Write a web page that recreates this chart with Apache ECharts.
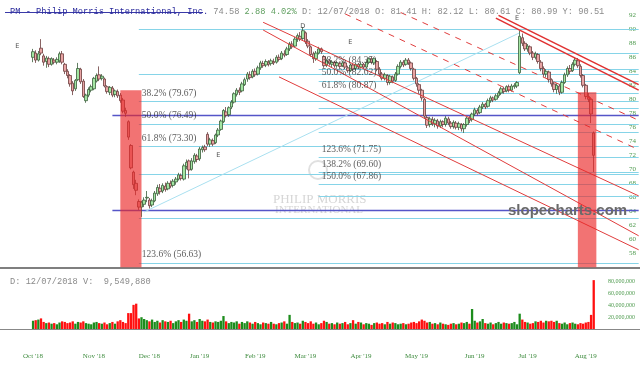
<!DOCTYPE html>
<html>
<head>
<meta charset="utf-8">
<script src="https://cdn.jsdelivr.net/npm/echarts@6/dist/echarts.min.js"></script>
<style>
html,body{margin:0;padding:0;background:#fff}
#chart{width:640px;height:368px}
</style>
</head>
<body>
<div id="chart"></div>
<script>
// trading calendar (NYSE holidays in the range)
const holidays = ['2018-11-22','2018-12-05','2018-12-25','2019-01-01','2019-01-21','2019-02-18','2019-04-19','2019-05-27','2019-07-04'];
const monthNames = ['Jan','Feb','Mar','Apr','May','Jun','Jul','Aug','Sep','Oct','Nov','Dec'];

function tradingDays(from, to) {
    let out = [], d = new Date(from + 'T00:00:00Z'), end = new Date(to + 'T00:00:00Z');
    while (d <= end) {
        let w = d.getUTCDay(), s = d.toISOString().slice(0, 10);
        if (w !== 0 && w !== 6 && holidays.indexOf(s) < 0) out.push(s);
        d.setUTCDate(d.getUTCDate() + 1);
    }
    return out;
}
const dates = tradingDays('2018-09-13', '2019-08-29');
const firstDay = '2018-10-01';

// daily candles [open, close, low, high], Oct 1 2018 ->
const ohlc = [
 [86.0,86.8,85.3,87.2],[86.6,85.6,85.2,87.0],[85.6,86.5,85.4,86.9],[87.3,86.6,86.3,88.6],[86.2,85.3,84.8,86.5],
 [85.4,85.9,84.5,86.2],[85.8,85.0,84.6,86.1],[85.0,85.8,84.8,86.0],[85.6,85.3,85.0,85.9],[85.3,85.7,85.0,86.0],
 [85.5,86.5,85.2,86.8],[86.5,85.3,85.0,86.9],[85.0,84.0,83.6,85.2],[84.0,83.4,83.0,84.3],[83.4,82.2,81.8,83.6],
 [82.3,81.2,80.6,82.6],[81.5,82.7,81.2,82.9],[82.8,84.4,82.6,85.2],[84.3,82.5,82.2,84.5],[82.6,80.4,80.2,82.9],
 [79.8,80.6,79.5,80.8],[80.6,81.4,80.3,81.7],[81.3,81.8,81.0,82.1],
 [81.5,83.0,81.3,83.2],[82.6,83.4,82.4,83.7],[83.5,82.9,82.6,84.7],[83.0,83.3,82.7,83.6],[82.9,81.9,81.7,83.1],
 [81.8,81.1,80.8,82.0],[81.0,81.7,80.6,81.9],[81.6,80.6,80.3,81.9],[80.7,81.2,80.3,81.4],[81.1,80.5,80.2,81.4],
 [80.6,79.8,79.5,80.9],[79.9,78.3,78.0,80.2],[78.4,78.0,77.5,78.8],[76.8,74.6,74.2,77.0],[73.4,70.2,70.0,73.6],
 [69.6,67.8,67.2,69.8],[68.0,67.0,66.3,68.5],[65.4,64.6,64.2,65.7],[64.6,65.3,63.2,65.5],[65.0,65.6,64.6,66.0],
 [65.9,66.0,65.3,66.9],
 [65.6,64.8,64.4,65.9],[64.9,65.5,64.6,65.8],[65.5,66.6,65.3,66.9],[66.5,67.4,66.2,67.8],[67.3,66.8,66.4,67.9],
 [66.9,67.7,66.6,68.0],[67.6,67.1,66.8,68.1],[67.2,68.0,67.0,68.3],[68.0,67.6,67.3,68.4],[67.7,68.3,67.4,68.6],
 [68.2,68.6,67.8,68.9],[68.6,69.2,68.4,69.5],[69.1,68.7,68.4,69.4],[68.6,70.5,68.4,70.8],[70.4,71.0,70.0,71.4],
 [71.2,69.9,68.7,71.4],[70.0,71.2,69.8,71.6],[71.1,72.0,70.8,72.3],[71.9,71.4,71.0,72.2],
 [71.5,72.9,71.2,73.2],[72.8,73.1,72.4,73.4],[73.2,72.8,72.5,73.5],[75.0,73.6,73.3,75.3],[73.6,74.2,73.2,74.5],
 [74.1,73.6,73.3,74.4],[73.8,74.9,73.6,75.1],[74.9,75.6,74.6,75.9],[75.7,76.9,75.5,77.1],[76.8,78.4,76.6,78.6],
 [78.2,77.7,77.4,78.9],[77.8,78.8,77.5,79.0],[78.9,79.6,78.6,79.9],[79.6,80.8,79.4,81.0],[80.7,81.3,80.4,81.6],
 [81.3,81.0,80.6,81.7],[81.2,82.2,81.0,82.5],[82.1,82.8,81.9,83.1],[82.9,83.6,82.5,83.9],[83.5,83.1,82.8,84.0],
 [83.2,84.0,83.0,84.3],
 [84.0,83.5,83.2,84.4],[83.6,84.5,83.4,84.8],[84.5,85.2,84.2,85.5],[85.1,84.8,84.5,85.5],[84.9,85.4,84.6,85.7],
 [85.3,85.0,84.7,85.6],[85.1,85.5,84.8,85.8],[85.4,85.2,84.9,85.8],[85.3,86.0,85.1,86.3],[86.0,85.7,85.4,86.4],
 [85.8,86.6,85.6,86.9],[86.5,86.3,86.0,87.0],[86.4,87.2,86.2,87.5],[87.2,87.9,86.9,88.2],[87.9,87.5,87.2,88.3],
 [87.6,88.6,87.4,88.9],[88.6,89.1,88.2,89.4],[89.0,88.6,88.3,89.6],[88.7,89.8,88.5,90.3],
 [89.5,88.2,87.9,89.7],[88.3,87.6,87.3,88.6],[87.5,86.4,86.1,87.7],[86.5,85.8,85.2,86.8],[85.8,86.6,85.5,86.9],
 [86.6,87.2,86.4,87.5],[87.2,86.8,86.5,87.4],[86.1,84.8,84.5,86.3],[84.9,85.5,84.6,85.8],[85.5,85.1,84.8,85.7],
 [85.0,85.3,84.6,85.6],[85.3,84.8,84.5,85.5],[84.8,85.2,84.5,85.5],[85.1,84.7,84.4,85.4],[84.8,85.2,84.6,85.5],
 [85.2,84.6,84.3,85.4],[84.5,84.1,83.8,84.8],[84.1,84.9,83.9,85.1],[84.9,84.3,84.0,85.1],[84.4,85.0,84.1,85.2],
 [85.0,84.6,84.3,85.2],
 [84.6,85.0,84.4,85.3],[85.0,84.6,84.3,85.2],[84.6,85.3,84.4,85.6],[85.3,85.8,85.0,86.0],[85.8,85.3,85.0,86.1],
 [85.2,85.8,84.9,86.0],[85.4,84.3,84.0,85.6],[84.3,83.6,83.2,84.6],[83.6,83.0,82.7,83.9],[83.0,83.5,82.7,83.8],
 [83.4,82.4,82.0,83.6],[82.4,83.3,82.1,83.5],[83.2,82.6,82.3,83.4],[82.7,83.6,82.5,83.9],[83.6,84.7,83.4,85.0],
 [84.7,85.3,84.4,85.6],[85.3,84.9,84.6,85.6],[85.0,85.6,84.8,85.9],[85.6,85.2,84.9,85.9],[85.2,84.4,84.1,85.4],
 [84.3,83.0,82.7,84.5],
 [83.0,82.2,81.8,83.2],[82.1,81.3,80.8,82.3],[81.3,80.2,79.8,81.5],[80.0,77.6,77.2,80.2],[77.4,76.3,75.9,77.7],
 [76.4,77.2,76.0,77.5],[77.1,76.5,76.2,77.5],[76.5,77.0,76.0,77.3],[76.9,76.2,75.8,77.2],[76.2,76.8,75.9,77.1],
 [76.8,76.4,76.0,77.0],[76.4,77.3,76.1,77.6],[77.2,76.6,76.3,77.5],[76.6,76.1,75.8,76.9],[76.1,76.7,75.8,77.0],
 [76.6,76.0,75.7,76.9],[76.0,76.5,75.6,76.8],[76.4,75.8,75.4,76.6],[75.8,76.4,75.2,76.6],[76.4,77.3,76.1,77.5],
 [77.3,77.0,76.6,77.6],[77.1,77.9,76.8,78.1],
 [77.9,78.5,77.6,78.8],[78.4,78.0,77.7,78.7],[78.1,78.9,77.9,79.2],[78.9,79.3,78.6,79.6],[79.3,78.9,78.6,79.5],
 [79.0,79.8,78.8,80.1],[79.8,80.2,79.5,80.5],[80.2,79.9,79.6,80.4],[80.0,80.5,79.8,80.8],[80.5,80.9,80.2,81.2],
 [80.9,81.5,80.6,81.8],[81.5,81.1,80.8,81.8],[81.2,81.8,81.0,82.0],[81.8,81.3,81.0,82.1],[81.3,81.9,81.1,82.2],
 [81.8,82.0,81.5,82.3],[81.9,82.4,81.6,82.6],[83.8,89.0,83.6,89.8],[88.8,88.0,87.6,89.4],[88.0,87.2,86.9,88.3],
 [87.2,87.6,86.8,87.9],[87.5,86.6,86.3,87.7],[86.6,86.0,85.6,86.9],[86.0,86.5,85.7,86.8],[86.4,85.4,85.1,86.6],
 [85.3,84.4,84.0,85.6],[84.4,83.6,83.2,84.7],[83.6,84.0,83.1,84.3],[83.9,82.8,82.4,84.1],[82.8,82.2,81.8,83.0],
 [82.2,81.4,81.0,82.5],[81.4,82.0,80.8,82.3],[81.9,81.0,80.6,82.2],[81.0,82.4,80.8,82.7],[82.4,83.5,82.2,83.8],
 [83.5,84.4,83.2,84.7],[84.4,84.0,83.6,84.9],[84.1,85.0,83.9,85.3],[85.0,85.6,84.7,86.0],[85.5,84.8,84.5,85.9],
 [84.7,83.4,83.1,85.0],[83.4,82.0,81.7,83.6],
 [82.0,80.4,80.0,82.2],[80.4,80.0,79.6,80.9],[80.0,77.9,76.6,80.3],[75.2,72.0,69.6,75.4]
];

// daily volume, millions
const volume = [
 14,15,16,18,12,10,11,9,10,8,
 11,13,12,10,11,13,9,12,11,13,
 10,9,8,11,12,10,9,11,8,10,
 12,9,13,15,12,10,27,27,41,43,
 18,20,17,15,13,16,12,14,11,15,
 13,12,14,10,13,15,12,16,14,26,
 13,15,12,17,14,13,16,12,11,13,
 12,14,22,13,10,12,11,13,9,12,
 10,13,11,9,12,10,8,11,10,9,
 12,9,8,10,11,13,9,24,12,10,
 11,9,14,12,10,13,9,11,8,10,
 14,12,9,10,8,11,9,10,12,8,
 10,15,9,12,11,8,10,9,7,10,
 11,9,10,8,12,9,11,10,8,9,
 10,8,9,11,12,10,13,16,14,11,
 12,9,10,8,11,9,8,7,9,10,
 8,9,11,10,12,9,34,14,11,13,
 17,10,9,11,8,10,12,9,11,10,
 9,10,12,8,26,16,12,11,9,10,
 13,12,14,11,14,13,14,12,14,10,
 9,11,8,10,11,9,8,10,9,11,
 12,24,83
];

// drawn studies: category index on the chart, price
const leftFibFrom = 52;
const leftFibPrices = [89.99, 83.62, 79.67, 76.49, 73.30, 69.36, 62.99, 56.63];
const midFibFrom = 120;
const midFibPrices = [86.51, 84.35, 82.62, 80.87, 78.72, 75.24, 71.75, 69.60, 67.86, 66.12];
const fibLabels = [
    [leftFibFrom, 79.67, '38.2% (79.67)'], [leftFibFrom, 76.49, '50.0% (76.49)'],
    [leftFibFrom, 73.30, '61.8% (73.30)'], [leftFibFrom, 56.63, '123.6% (56.63)'],
    [midFibFrom, 84.35, '38.2% (84.35)'], [midFibFrom, 82.62, '50.0% (82.62)'],
    [midFibFrom, 80.87, '61.8% (80.87)'], [midFibFrom, 71.75, '123.6% (71.75)'],
    [midFibFrom, 69.60, '138.2% (69.60)'], [midFibFrom, 67.86, '150.0% (67.86)']
];
const blueLevels = [77.76, 64.2];
const blueFrom = 42;
const redSolid = [[99, 91.0, 241, 66.2], [99, 89.9, 241, 60.5], [105, 83.2, 241, 58.5]];
const redDashed = [[130, 92.2, 241, 72.8], [151, 92.4, 241, 77.0]];
const redThick = [[187, 91.6, 241, 81.3], [188, 92.0, 241, 82.1]];
const cyanDiag = [[54, 63.9, 196, 89.5]];
// highlighted boxes: from category, to category, top price
const highlight = [[45, 53, 81.3], [218, 225, 81.0]];
const eventMarks = [[6, 87.6, 'E'], [82, 72.0, 'E'], [132, 88.2, 'E'], [195, 91.6, 'E'], [114, 90.4, 'D']];

const priceMin = 56, priceMax = 92.5;
const lastCat = dates.length - 1;
const off = dates.indexOf(firstDay);
const pad = (n) => new Array(n).fill('-');

let candleData = pad(off).concat(ohlc, pad(dates.length - off - ohlc.length));
let volData = pad(off).concat(volume.map((v, i) => ({
    value: v * 1e6,
    itemStyle: {color: ohlc[i][1] >= ohlc[i][0] ? '#1c8c1c' : '#ff1010'}
})), pad(dates.length - off - volume.length));

let seg = (a) => [{coord: [dates[a[0]], a[1]]}, {coord: [dates[a[2]], a[3]]}];
let lines = (name, data, style, z) => ({
    name: name, type: 'line', data: [], z: z, silent: true,
    markLine: {silent: true, z: z, symbol: ['none', 'none'], animation: false,
        label: {show: false}, lineStyle: style, data: data}
});

let fibSegs = leftFibPrices.map(p => seg([leftFibFrom, p, lastCat, p]))
    .concat(midFibPrices.map(p => seg([midFibFrom, p, lastCat, p])));

let myChart = echarts.init(document.getElementById('chart'));
const mono = 'Liberation Mono';
const serif = 'Liberation Serif';

myChart.setOption({
    animation: false,
    title: [{
        left: 5, top: 2,
        text: '{t|PM - Philip Morris International, Inc.} {g|74.58} {c|2.88 4.02%} {g|D: 12/07/2018 O: 81.41 H: 82.12 L: 80.61 C: 80.99 Y: 90.51}',
        textStyle: {fontFamily: mono, fontSize: 8.7, fontWeight: 'normal', color: '#888',
            rich: {
                t: {fontFamily: mono, fontSize: 8.7, color: '#2a2a9c'},
                g: {fontFamily: mono, fontSize: 8.7, color: '#8a8a8a'},
                c: {fontFamily: mono, fontSize: 8.7, color: '#62a062'}
            }}
    }, {
        left: 5, top: 272,
        text: 'D: 12/07/2018 V:  9,549,880',
        textStyle: {fontFamily: mono, fontSize: 8.7, fontWeight: 'normal', color: '#8a8a8a'}
    }],
    graphic: [
        {type: 'line', shape: {x1: 5, y1: 12.5, x2: 203, y2: 12.5}, style: {stroke: '#3a3aa8', lineWidth: 1}, silent: true},
        {type: 'text', left: 273, top: 193, silent: true,
            style: {text: 'PHILIP MORRIS', font: '13px "Liberation Serif"', fill: '#d6d6d6'}},
        {type: 'text', left: 275, top: 205, silent: true,
            style: {text: 'INTERNATIONAL', font: '11px "Liberation Serif"', fill: '#d6d6d6'}},
        {type: 'circle', shape: {cx: 318, cy: 170, r: 9}, style: {fill: 'none', stroke: '#e0e0e0', lineWidth: 2}, silent: true},
        {type: 'text', left: 508, top: 203, zlevel: 1, z: 10, silent: true,
            style: {text: 'slopecharts.com', font: 'bold 15px "Liberation Sans"', fill: '#6a6a6a'}}
    ],
    grid: [
        {left: 0, right: 0, top: 11.8, height: 255.5},
        {left: 0, right: 0, top: 276, height: 53}
    ],
    xAxis: [{
        type: 'category', gridIndex: 0, data: dates,
        axisLine: {lineStyle: {color: '#555', width: 1.5}},
        axisTick: {show: false}, axisLabel: {show: false}, splitLine: {show: false}
    }, {
        type: 'category', gridIndex: 1, data: dates, offset: 17,
        axisLine: {lineStyle: {color: '#888', width: 1.2}},
        axisTick: {show: false},
        axisLabel: {
            color: '#3d8b3d', fontSize: 7, fontFamily: serif, margin: 7,
            interval: (idx, val) => idx > 0 && val.slice(0, 7) !== dates[idx - 1].slice(0, 7),
            formatter: (val) => monthNames[+val.slice(5, 7) - 1] + " '" + val.slice(2, 4)
        }
    }],
    yAxis: [{
        type: 'value', gridIndex: 0, position: 'right', min: priceMin, max: priceMax, interval: 2,
        splitLine: {show: false}, axisLine: {show: false}, axisTick: {show: false},
        axisLabel: {inside: true, margin: 4, color: '#4d9a4d', fontSize: 7, fontFamily: serif,
            formatter: (v) => (v < 57 ? '' : v)}
    }, {
        type: 'value', gridIndex: 1, position: 'right', min: 0, max: 90e6, interval: 20e6,
        splitLine: {show: false}, axisLine: {show: false}, axisTick: {show: false},
        axisLabel: {inside: true, margin: 5, color: '#4d9a4d', fontSize: 6, fontFamily: serif,
            formatter: (v) => (v === 0 || v > 85e6 ? '' : v.toLocaleString('en-US'))}
    }],
    series: [
        lines('fib', fibSegs, {color: '#86d4e8', width: 1, type: 'solid', opacity: 1}, 1),
        lines('blue', blueLevels.map(p => seg([blueFrom, p, lastCat, p])), {color: '#5555c8', width: 1.3, type: 'solid'}, 1),
        lines('diag', cyanDiag.map(seg), {color: '#a9e0f0', width: 1, type: 'solid'}, 1),
        {
            name: 'PM', type: 'candlestick', xAxisIndex: 0, yAxisIndex: 0, z: 3,
            data: candleData, barWidth: 3,
            itemStyle: {color: '#a3e6a3', color0: '#e8a4a4', borderColor: '#3b5e3b', borderColor0: '#6b3c3c', borderWidth: 0.8}
        },
        lines('redSolid', redSolid.map(seg), {color: '#e03c3c', width: 1, type: 'solid'}, 5),
        lines('redDashed', redDashed.map(seg), {color: '#e03c3c', width: 1, type: [6, 6]}, 5),
        lines('redThick', redThick.map(seg), {color: '#e03030', width: 1.5, type: 'solid'}, 5),
        {
            name: 'hl', type: 'custom', xAxisIndex: 0, yAxisIndex: 0, zlevel: 1, z: 8, silent: true,
            encode: {x: [0, 1], y: 2},
            data: highlight.map(h => [dates[h[0]], dates[h[1]], h[2]]),
            renderItem: function (params, api) {
                let a = api.coord([api.value(0), api.value(2)]);
                let b = api.coord([api.value(1), priceMin]);
                return {type: 'rect', shape: {x: a[0], y: a[1], width: b[0] - a[0], height: b[1] - a[1]},
                    style: {fill: 'rgba(235,40,40,0.65)'}};
            }
        },
        {
            name: 'labels', type: 'scatter', symbolSize: 0, zlevel: 1, z: 9, silent: true,
            data: fibLabels.map(f => ({
                value: [dates[f[0]], f[1]],
                label: {show: true, formatter: f[2], position: 'right', distance: 0, offset: [3, -8],
                    fontFamily: serif, fontSize: 9.5, color: '#333'}
            })).concat(eventMarks.map(e => ({
                value: [dates[e[0]], e[1]],
                label: {show: true, formatter: e[2], position: 'inside', fontFamily: 'DejaVu Sans', fontSize: 6.5, color: '#222'}
            })))
        },
        {
            name: 'Volume', type: 'bar', xAxisIndex: 1, yAxisIndex: 1, data: volData,
            barWidth: 2.3, barGap: '-100%'
        }
    ]
});
</script>
</body>
</html>
